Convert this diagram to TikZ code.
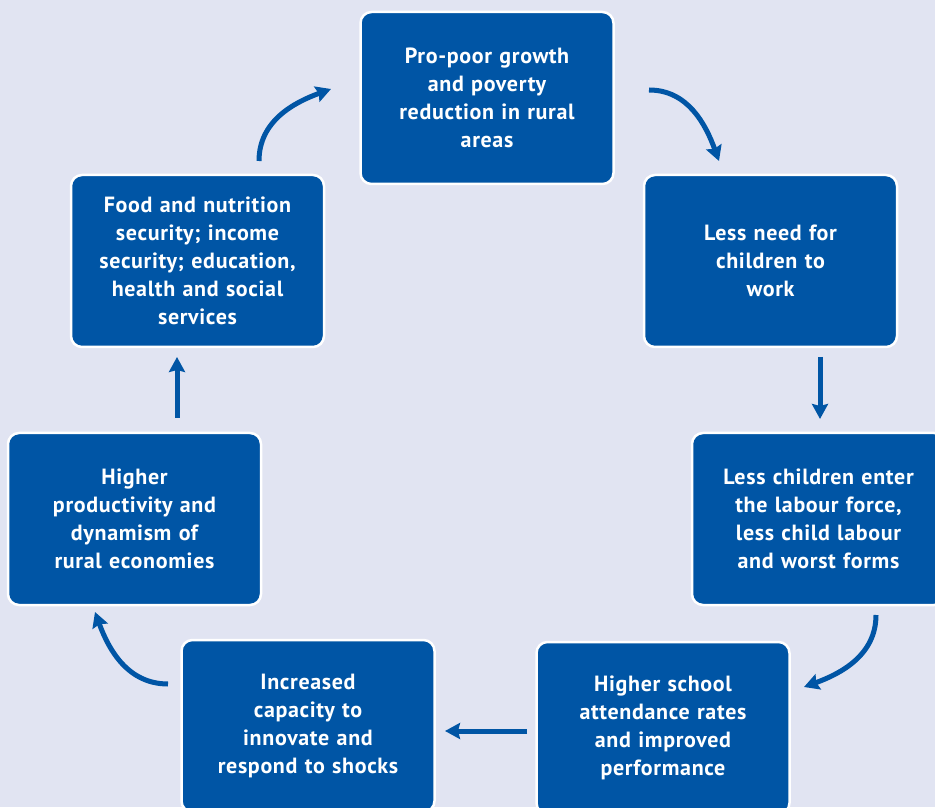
\documentclass[tikz,border=0pt]{standalone}
\usepackage{fontspec}
\setmainfont{PT Sans}[LetterSpace=3]
\usetikzlibrary{arrows.meta}
\definecolor{bgc}{RGB}{225,228,242}
\definecolor{boxblue}{RGB}{0,85,165}
\tikzset{
  stagebox/.style={draw=white, line width=2.5pt, fill=boxblue, rounded corners=11pt,
    minimum width=253pt, minimum height=172pt, text width=235pt, align=center,
    text=white, font=\fontsize{22}{28}\selectfont\bfseries, inner sep=0pt},
  flow/.style={draw=boxblue, line width=5pt, -{Stealth[length=15pt,width=16pt,inset=2pt]}}
}
\begin{document}
\begin{tikzpicture}[x=1pt,y=1pt]
\useasboundingbox (0,0) rectangle (935,807);
\clip (0,0) rectangle (935,807);
\fill[bgc] (0,0) rectangle (935,807);
\node[stagebox] (n1) at (487,709) {Pro-poor growth\\and poverty\\reduction in rural\\areas};
\node[stagebox] (n2) at (770.5,546) {Less need for\\children to\\work};
\node[stagebox] (n3) at (818.5,288) {Less children enter\\the labour force,\\less child labour\\and worst forms};
\node[stagebox] (n4) at (663,79) {Higher school\\attendance rates\\and improved\\performance};
\node[stagebox] (n5) at (308,81) {Increased\\capacity to\\innovate and\\respond to shocks};
\node[stagebox] (n6) at (134.5,288) {Higher\\productivity and\\dynamism of\\rural economies};
\node[stagebox] (n7) at (197.5,546) {Food and nutrition\\security; income\\security; education,\\health and social\\services};
\coordinate (a1s) at (649,717); \coordinate (a1e) at (719,646);
\coordinate (a2s) at (820,450); \coordinate (a2e) at (820,388);
\coordinate (a3s) at (876,192); \coordinate (a3e) at (804,120);
\coordinate (a4s) at (527,76);  \coordinate (a4e) at (445,76);
\coordinate (a5s) at (168,123); \coordinate (a5e) at (95,195);
\coordinate (a6s) at (177,389); \coordinate (a6e) at (177,450);
\coordinate (a7s) at (259,646); \coordinate (a7e) at (331,718);
\draw[flow] (a1s) to[out=0,in=110] (a1e);
\draw[flow] (a2s) -- (a2e);
\draw[flow] (a3s) to[out=-90,in=20] (a3e);
\draw[flow] (a4s) -- (a4e);
\draw[flow] (a5s) to[out=180,in=-70] (a5e);
\draw[flow] (a6s) -- (a6e);
\draw[flow] (a7s) to[out=90,in=200] (a7e);
\end{tikzpicture}
\end{document}
